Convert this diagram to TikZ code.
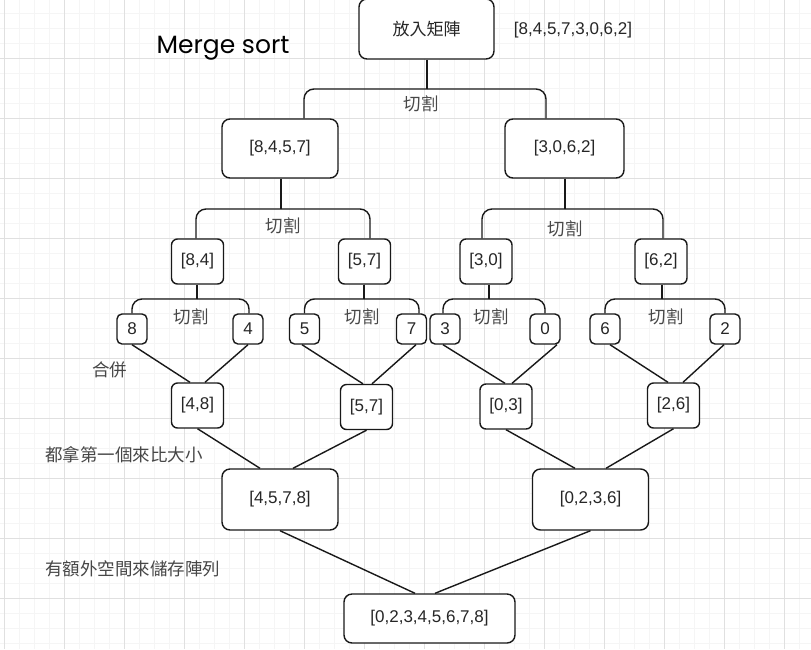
\documentclass[tikz,border=0pt]{standalone}
\usepackage{fontspec}
\setmainfont{Liberation Sans}
\newfontfamily\cjk{Noto Sans CJK TC}
\newfontfamily\handfont{Poppins}
\usepackage{tikz}
\usetikzlibrary{positioning}

\begin{document}
\begin{tikzpicture}[x=1pt,y=-1pt,
	box/.style={draw=black!90,fill=white,line width=1.4pt,rounded corners=8pt,inner sep=0pt,
		font=\fontsize{17}{20}\selectfont,text=black!85},
	bigbox/.style={box,minimum width=116pt,minimum height=60pt},
	midbox/.style={box,minimum width=52pt,minimum height=45pt,rounded corners=6pt},
	leaf/.style={box,minimum width=30pt,minimum height=30pt,rounded corners=5pt},
	link/.style={draw=black!90,line width=1.4pt},
	cut/.style={link,rounded corners=10pt},
	note/.style={font=\cjk\fontsize{17.5}{20}\selectfont,text=black!72,inner sep=0pt},
	minor/.style={draw=black!4,line width=0.8pt},
	major/.style={draw=black!12,line width=0.9pt}]
\useasboundingbox (0,0) rectangle (811,649);
\fill[white] (0,0) rectangle (811,649);
%grille de fond
\foreach \gx in {4,19,...,799} \draw[minor] (\gx,0) -- (\gx,649);
\foreach \gy in {13,28,...,643} \draw[minor] (0,\gy) -- (811,\gy);
\foreach \gx in {4,64,...,784} \draw[major] (\gx,0) -- (\gx,649);
\foreach \gy in {58,118,...,598} \draw[major] (0,\gy) -- (811,\gy);

%Titre et tableau de depart
\node[text=black] (title) at (223,48) {\handfont\fontsize{25}{28}\selectfont Merge sort};
\node[bigbox,minimum width=135pt] (root) at (426.5,29) {\cjk 放入矩陣};
\node[font=\fontsize{17}{20}\selectfont,text=black!85] (input) at (573,30) {[8,4,5,7,3,0,6,2]};

\begin{scope} %decoupage
	\node[bigbox,minimum height=59pt] (a) at (280,148.5) {[8,4,5,7]};
	\node[bigbox,minimum width=119pt,minimum height=59pt] (b) at (564.5,148.5) {[3,0,6,2]};
	\node[midbox] (aa) at (197.5,261.5) {[8,4]};
	\node[midbox] (ab) at (364.5,261.5) {[5,7]};
	\node[midbox] (ba) at (486,261.5) {[3,0]};
	\node[midbox] (bb) at (661,261.5) {[6,2]};
	\node[leaf] (n8) at (132,329) {8};
	\node[leaf] (n4) at (248,329) {4};
	\node[leaf] (n5) at (304.5,329) {5};
	\node[leaf] (n7) at (411.5,329) {7};
	\node[leaf] (n3) at (445,329) {3};
	\node[leaf] (n0) at (545,329) {0};
	\node[leaf] (n6) at (605,329) {6};
	\node[leaf] (n2) at (725,329) {2};

	\coordinate (s0) at (427,89);
	\coordinate (sa) at (281,209);
	\coordinate (sb) at (565,209);
	\coordinate (saa) at (197,299);
	\coordinate (sab) at (364,299);
	\coordinate (sba) at (489,299);
	\coordinate (sbb) at (662,299);

	\draw[link] (s0 |- root.south) -- (s0);
	\draw[cut] (s0) -| ([xshift=24pt]a.north);
	\draw[cut] (s0) -| ([xshift=-18.5pt]b.north);
	\draw[link] (sa |- a.south) -- (sa);
	\draw[cut] (sa) -| ([xshift=-1.5pt]aa.north);
	\draw[cut] (sa) -| ([xshift=5.5pt]ab.north);
	\draw[link] (sb |- b.south) -- (sb);
	\draw[cut] (sb) -| ([xshift=-4pt]ba.north);
	\draw[cut] (sb) -| ([xshift=2pt]bb.north);
	\draw[link] (saa |- aa.south) -- (saa);
	\draw[cut] (saa) -| (n8.north);
	\draw[cut] (saa) -| ([xshift=1pt]n4.north);
	\draw[link] (sab |- ab.south) -- (sab);
	\draw[cut] (sab) -| (n5.north);
	\draw[cut] (sab) -| ([xshift=7.5pt]n7.north);
	\draw[link] (sba |- ba.south) -- (sba);
	\draw[cut] (sba) -| ([xshift=-2pt]n3.north);
	\draw[cut] (sba) -| (n0.north);
	\draw[link] (sbb |- bb.south) -- (sbb);
	\draw[cut] (sbb) -| (n6.north);
	\draw[cut] (sbb) -| (n2.north);

	\node[note] (c0) at (421,104) {切割};
	\node[note] (ca) at (283,226) {切割};
	\node[note] (cb) at (565,229) {切割};
	\node[note] (caa) at (191,317) {切割};
	\node[note] (cab) at (362,317) {切割};
	\node[note] (cba) at (491,317) {切割};
	\node[note] (cbb) at (666,317) {切割};
\end{scope}

\begin{scope} %fusion
	\node[midbox] (m48) at (197.5,405.5) {[4,8]};
	\node[midbox] (m57) at (366.5,407) {[5,7]};
	\node[midbox] (m03) at (506,406.5) {[0,3]};
	\node[midbox] (m26) at (673.5,405.5) {[2,6]};
	\node[bigbox,minimum height=61pt] (m4578) at (280,499.5) {[4,5,7,8]};
	\node[bigbox,minimum height=61pt] (m0236) at (590.5,499.5) {[0,2,3,6]};
	\node[box,minimum width=171pt,minimum height=49pt] (fin) at (429.5,618.5) {[0,2,3,4,5,6,7,8]};

	\draw[link] (n8.south) -- ([xshift=-7.5pt]m48.north);
	\draw[link] (n4.south) -- ([xshift=7.5pt]m48.north);
	\draw[link] ([xshift=-2.5pt]n5.south) -- ([xshift=-3.5pt]m57.north);
	\draw[link] ([xshift=4.5pt]n7.south) -- ([xshift=5.5pt]m57.north);
	\draw[link] ([xshift=-2pt]n3.south) -- ([xshift=-1pt]m03.north);
	\draw[link] ([xshift=12pt]n0.south) -- ([xshift=6pt]m03.north);
	\draw[link] ([xshift=5pt]n6.south) -- ([xshift=-5.5pt]m26.north);
	\draw[link] ([xshift=-1pt]n2.south) -- ([xshift=9.5pt]m26.north);

	\draw[link] (m48.south) -- ([xshift=-20pt]m4578.north);
	\draw[link] (m57.south) -- ([xshift=13pt]m4578.north);
	\draw[link] (m03.south) -- ([xshift=-15.5pt]m0236.north);
	\draw[link] (m26.south) -- ([xshift=15.5pt]m0236.north);

	\draw[link] (m4578.south) -- ([xshift=-14.5pt]fin.north);
	\draw[link] (m0236.south) -- ([xshift=5.5pt]fin.north);

	\node[note,anchor=west] (merge) at (92,370) {合併};
	\node[note,anchor=west] (compare) at (45,455) {都拿第一個來比大小};
	\node[note,anchor=west] (store) at (45,569) {有額外空間來儲存陣列};
\end{scope}
\end{tikzpicture}
\end{document}
